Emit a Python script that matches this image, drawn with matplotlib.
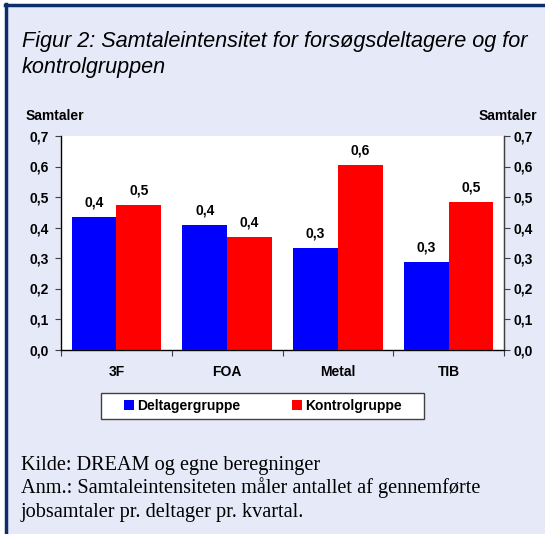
import matplotlib
matplotlib.use("Agg")
import matplotlib.pyplot as plt
import numpy as np

categories = ["3F", "FOA", "Metal", "TIB"]
deltager = [0.434, 0.407, 0.333, 0.286]
kontrol = [0.473, 0.369, 0.604, 0.483]
series_names = ["Deltagergruppe", "Kontrolgruppe"]
yticks = [0.0, 0.1, 0.2, 0.3, 0.4, 0.5, 0.6, 0.7]

BG = "#E6E9F8"
NAVY = "#0D2D6B"
AX = "#404040"
FS = 10
W, H = 545, 534
fig = plt.figure(figsize=(W / 100, H / 100), dpi=100)
fig.patch.set_facecolor("white")

# background panel and border
fig.patches.append(plt.Rectangle((5 / W, 0), 1, 1 - 5 / H, transform=fig.transFigure,
                                  facecolor=BG, edgecolor="none", zorder=-5))
fig.lines.append(plt.Line2D([5 / W, 1], [1 - 5 / H, 1 - 5 / H], transform=fig.transFigure,
                            color=NAVY, lw=2.5, zorder=-4))
fig.lines.append(plt.Line2D([6 / W, 6 / W], [0, 1 - 4 / H], transform=fig.transFigure,
                            color=NAVY, lw=2.5, zorder=-4))

x0, x1 = 61, 504
y0, y1 = 136, 349.5
ax = fig.add_axes([x0 / W, 1 - y1 / H, (x1 - x0) / W, (y1 - y0) / H])
ax.set_facecolor("white")

x = np.arange(len(categories))
bw = 0.405
b1 = ax.bar(x - bw / 2, deltager, bw, color="#0000FF", label=series_names[0])
b2 = ax.bar(x + bw / 2, kontrol, bw, color="#FF0000", label=series_names[1])

def fmt(v):
    return f"{v:.1f}".replace(".", ",")

for bars, vals in ((b1, deltager), (b2, kontrol)):
    for b, v in zip(bars, vals):
        ax.annotate(fmt(v), (b.get_x() + b.get_width() / 2, v), xytext=(0, 5.5),
                    textcoords="offset points", ha="center", va="bottom",
                    fontsize=FS, fontweight="bold", family="Liberation Sans")

ax.set_xlim(-0.5, len(categories) - 0.5)
ax.set_ylim(0, 0.7)
ax.set_yticks(yticks)
ax.set_yticklabels([fmt(t) for t in yticks], fontsize=FS, fontweight="bold", family="Liberation Sans")
ax.set_xticks(np.arange(len(categories) + 1) - 0.5)
ax.set_xticklabels([])
ax.set_xticks(x, minor=True)
ax.set_xticklabels(categories, minor=True, fontsize=FS, fontweight="bold", family="Liberation Sans")
ax.tick_params(axis="x", which="minor", length=0, pad=11.5)
ax.tick_params(axis="x", which="major", length=4, direction="out", color=AX)
ax.tick_params(axis="y", length=4, direction="out", color=AX, pad=5)

ax.spines["top"].set_visible(False)
for s in ["left", "bottom", "right"]:
    ax.spines[s].set_color(AX)
    ax.spines[s].set_linewidth(1)

ax2 = ax.twinx()
ax2.set_ylim(0, 0.7)
ax2.set_yticks(yticks)
ax2.set_yticklabels([fmt(t) for t in yticks], fontsize=FS, fontweight="bold", family="Liberation Sans")
ax2.tick_params(axis="y", length=4, direction="out", color=AX, pad=3)
ax2.spines["top"].set_visible(False)
ax2.spines["right"].set_color(AX)

fig.text(26 / W, 1 - 120 / H, "Samtaler", fontsize=FS, fontweight="bold", family="Liberation Sans",
         ha="left", va="baseline")
fig.text(537 / W, 1 - 120 / H, "Samtaler", fontsize=FS, fontweight="bold", family="Liberation Sans",
         ha="right", va="baseline")

fig.text(22 / W, 1 - 47.5 / H, "Figur 2: Samtaleintensitet for forsøgsdeltagere og for",
         fontsize=15.6, style="italic", family="Liberation Sans", ha="left", va="baseline")
fig.text(22 / W, 1 - 72.5 / H, "kontrolgruppen",
         fontsize=15.6, style="italic", family="Liberation Sans", ha="left", va="baseline")

# legend with manually drawn box
fig.patches.append(plt.Rectangle((101 / W, 1 - 419 / H), 323 / W, 26 / H, transform=fig.transFigure,
                                  facecolor="white", edgecolor=AX, lw=1, zorder=2))
leg = fig.legend(handles=[b1, b2], labels=series_names, loc="center",
                 bbox_to_anchor=(263 / W, 1 - 406 / H), ncol=2, frameon=False,
                 prop={"family": "Liberation Sans", "weight": "bold", "size": FS},
                 handlelength=0.72, handleheight=0.72, handletextpad=0.22, columnspacing=3.7,
                 borderpad=0, borderaxespad=0)
leg.set_zorder(3)

foot = ["Kilde: DREAM og egne beregninger",
        "Anm.: Samtaleintensiteten måler antallet af gennemførte",
        "jobsamtaler pr. deltager pr. kvartal."]
for i, line in enumerate(foot):
    fig.text(21 / W, 1 - (470 + 23.5 * i) / H, line, fontsize=14.6, family="Liberation Serif",
             ha="left", va="baseline")

fig.savefig("out.png", dpi=100, facecolor=fig.get_facecolor())
